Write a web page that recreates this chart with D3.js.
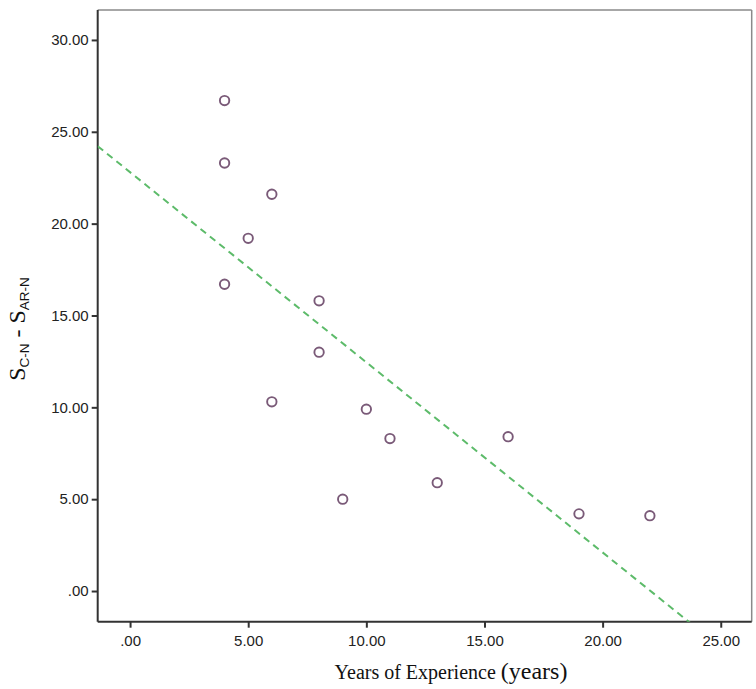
<!DOCTYPE html>
<html>
<head>
<meta charset="utf-8">
<script src="https://cdn.jsdelivr.net/npm/d3@7/dist/d3.min.js"></script>
<style>
  html, body { margin: 0; padding: 0; background: #fff; }
  svg { display: block; }
</style>
</head>
<body>
<svg id="chart" width="756" height="689"></svg>
<script>
// ---- data ----
const experience = [4, 4, 6, 5, 4, 8, 8, 6, 10, 11, 16, 9, 13, 19, 22];
const scoreDiff  = [26.7, 23.3, 21.6, 19.2, 16.7, 15.8, 13.0, 10.3, 9.9, 8.3, 8.4, 5.0, 5.9, 4.2, 4.1];
const xTicks = [0, 5, 10, 15, 20, 25];
const yTicks = [0, 5, 10, 15, 20, 25, 30];
const fitIntercept = 22.8;
const fitSlope = -1.035;

(function () {
const svg = d3.select("#chart");
const pLeft = 97.7, pRight = 751.7, pTop = 10, pBottom = 621.7;

const x = d3.scaleLinear().domain([-1.37, 26.31]).range([pLeft, pRight]);
const y = d3.scaleLinear().domain([-1.67, 31.63]).range([pBottom, pTop]);

const fmt = v => v === 0 ? ".00" : d3.format(".2f")(v);

// frame: top & right grey
svg.append("line").attr("x1", pLeft).attr("x2", pRight).attr("y1", pTop).attr("y2", pTop)
  .attr("stroke", "#8a8a8a").attr("stroke-width", 1.5);
svg.append("line").attr("x1", pRight).attr("x2", pRight).attr("y1", pTop).attr("y2", pBottom)
  .attr("stroke", "#8a8a8a").attr("stroke-width", 1.5);

// axes
const xAxis = svg.append("g").attr("transform", `translate(0,${pBottom})`)
  .call(d3.axisBottom(x).tickValues(xTicks).tickFormat(fmt).tickSize(6).tickSizeOuter(0).tickPadding(8));
const yAxis = svg.append("g").attr("transform", `translate(${pLeft},0)`)
  .call(d3.axisLeft(y).tickValues(yTicks).tickFormat(fmt).tickSize(6).tickSizeOuter(0).tickPadding(3));

[xAxis, yAxis].forEach(g => {
  g.select(".domain").attr("stroke", "#333").attr("stroke-width", 2);
  g.selectAll(".tick line").attr("stroke", "#333").attr("stroke-width", 2);
  g.selectAll(".tick text").attr("fill", "#222")
    .style("font-family", "'Liberation Sans', Arial, sans-serif").style("font-size", "15px");
});
xAxis.select(".domain").attr("d", `M${pLeft},0H${pRight}`);
yAxis.select(".domain").attr("d", `M0,${pTop}V${pBottom}`);

// clip
svg.append("clipPath").attr("id", "clip").append("rect")
  .attr("x", pLeft).attr("y", pTop).attr("width", pRight - pLeft).attr("height", pBottom - pTop);

// fit line
const x0 = x.domain()[0], x1 = x.domain()[1];
svg.append("line")
  .attr("clip-path", "url(#clip)")
  .attr("x1", x(x0)).attr("y1", y(fitIntercept + fitSlope * x0))
  .attr("x2", x(x1)).attr("y2", y(fitIntercept + fitSlope * x1))
  .attr("stroke", "#5dbb6a").attr("stroke-width", 2).attr("stroke-dasharray", "7,5");

// points
svg.append("g").selectAll("circle")
  .data(experience.map((d, i) => ({ x: d, y: scoreDiff[i] })))
  .join("circle")
  .attr("cx", d => x(d.x)).attr("cy", d => y(d.y)).attr("r", 4.7)
  .attr("fill", "none").attr("stroke", "#7a5a78").attr("stroke-width", 1.9);

// x label
const xl = svg.append("text").attr("x", 451).attr("y", 679).attr("text-anchor", "middle")
  .attr("fill", "#111").style("font-family", "'Liberation Serif', 'Times New Roman', serif");
xl.append("tspan").style("font-size", "20px").text("Years of Experience ");
xl.append("tspan").style("font-size", "24px").text("(years)");

// y label
const yl = svg.append("text").attr("transform", "translate(25,329) rotate(-90)")
  .attr("text-anchor", "middle").attr("fill", "#111");
const serif = "'Liberation Serif', 'Times New Roman', serif";
const sans = "'Liberation Sans', Arial, sans-serif";
yl.append("tspan").style("font-family", serif).style("font-size", "24px").text("S");
yl.append("tspan").style("font-family", sans).style("font-size", "13.5px").attr("dy", 4).text("C-N");
yl.append("tspan").style("font-family", serif).style("font-size", "24px").attr("dy", -4).text(" - S");
yl.append("tspan").style("font-family", sans).style("font-size", "13.5px").attr("dy", 4).text("AR-N");
})();
</script>
</body>
</html>
